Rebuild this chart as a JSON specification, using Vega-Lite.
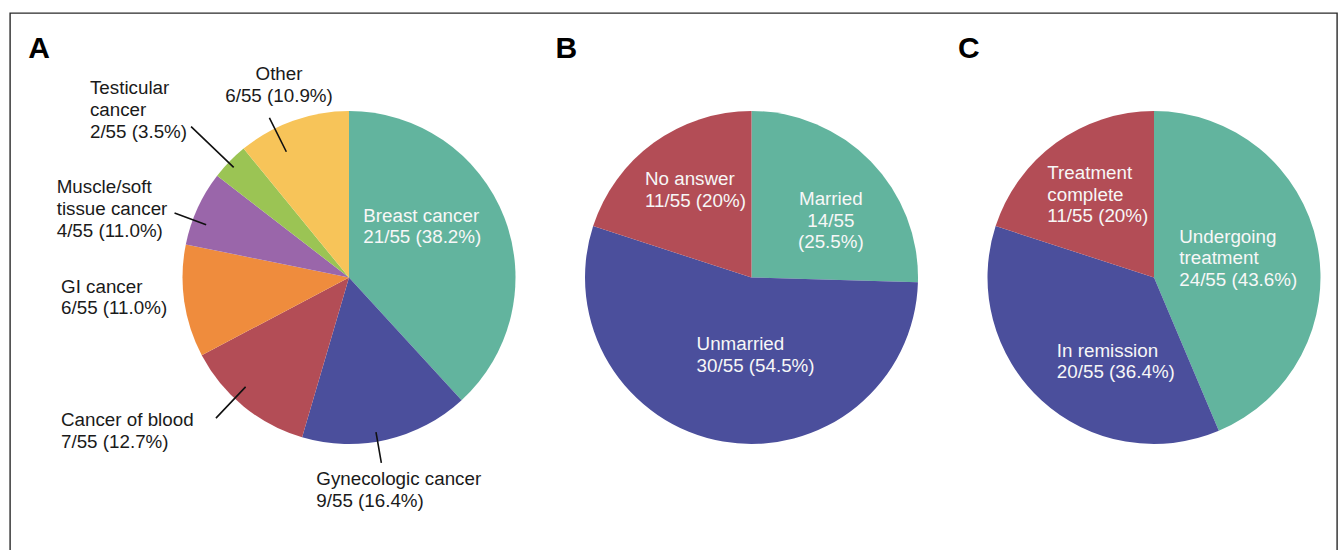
{
  "$schema": "https://vega.github.io/schema/vega-lite/v6.json",
  "width": 1327,
  "height": 542,
  "autosize": {"type": "none"},
  "padding": {"left": 10, "top": 13, "right": 2, "bottom": -5},
  "background": "white",
  "data": {
    "values": [
      {"panel": "A", "category": "Breast cancer", "order": 1, "count": 21, "label": "Breast cancer\n21/55 (38.2%)"},
      {"panel": "A", "category": "Gynecologic cancer", "order": 2, "count": 9, "label": "Gynecologic cancer\n9/55 (16.4%)"},
      {"panel": "A", "category": "Cancer of blood", "order": 3, "count": 7, "label": "Cancer of blood\n7/55 (12.7%)"},
      {"panel": "A", "category": "GI cancer", "order": 4, "count": 6, "label": "GI cancer\n6/55 (11.0%)"},
      {"panel": "A", "category": "Muscle/soft tissue cancer", "order": 5, "count": 4, "label": "Muscle/soft\ntissue cancer\n4/55 (11.0%)"},
      {"panel": "A", "category": "Testicular cancer", "order": 6, "count": 2, "label": "Testicular\ncancer\n2/55 (3.5%)"},
      {"panel": "A", "category": "Other", "order": 7, "count": 6, "label": "Other\n6/55 (10.9%)"},
      {"panel": "B", "category": "Married", "order": 1, "count": 14, "label": "Married\n14/55\n(25.5%)"},
      {"panel": "B", "category": "Unmarried", "order": 2, "count": 30, "label": "Unmarried\n30/55 (54.5%)"},
      {"panel": "B", "category": "No answer", "order": 3, "count": 11, "label": "No answer\n11/55 (20%)"},
      {"panel": "C", "category": "Undergoing treatment", "order": 1, "count": 24, "label": "Undergoing\ntreatment\n24/55 (43.6%)"},
      {"panel": "C", "category": "In remission", "order": 2, "count": 20, "label": "In remission\n20/55 (36.4%)"},
      {"panel": "C", "category": "Treatment complete", "order": 3, "count": 11, "label": "Treatment\ncomplete\n11/55 (20%)"}
    ]
  },
  "transform": [
    {"stack": "count", "groupby": ["panel"], "sort": [{"field": "order", "order": "ascending"}], "as": ["t0", "t1"]},
    {"calculate": "(datum.t0 + datum.t1) / 2", "as": "mid"}
  ],
  "encoding": {
    "x": {"field": "panel", "type": "nominal", "axis": null, "scale": {"type": "point", "domain": ["A", "B", "C"], "range": [339, 1144], "padding": 0}}
  },
  "layer": [
    {
      "mark": {"type": "arc", "outerRadius": 166.5, "y": 264.5},
      "encoding": {
        "theta": {"field": "t0", "type": "quantitative", "scale": {"domain": [0, 55], "range": [0, 6.283185307]}},
        "theta2": {"field": "t1"},
        "color": {
          "field": "category", "type": "nominal", "legend": null,
          "scale": {
            "domain": ["Breast cancer", "Gynecologic cancer", "Cancer of blood", "GI cancer", "Muscle/soft tissue cancer", "Testicular cancer", "Other", "Married", "Unmarried", "No answer", "Undergoing treatment", "In remission", "Treatment complete"],
            "range": ["#62B49E", "#4B4F9C", "#B34D56", "#EF8C3D", "#9A66AA", "#9BC454", "#F7C459", "#62B49E", "#4B4F9C", "#B34D56", "#62B49E", "#4B4F9C", "#B34D56"]
          }
        }
      }
    },
    {
      "transform": [{"filter": {"field": "category", "equal": "Other"}}],
      "mark": {"type": "arc", "filled": false, "stroke": "#111111", "strokeWidth": 1.6, "radius": 178.4, "radius2": 140.5, "thetaOffset": -0.1197, "theta2Offset": -0.1197, "y": 264.5},
      "encoding": {"theta": {"field": "mid", "type": "quantitative", "scale": {"domain": [0, 55], "range": [0, 6.283185307]}}, "theta2": {"field": "mid"}}
    },
    {
      "transform": [{"filter": {"field": "category", "equal": "Testicular cancer"}}],
      "mark": {"type": "arc", "filled": false, "stroke": "#111111", "strokeWidth": 1.6, "radius": 218.4, "radius2": 159.5, "thetaOffset": -0.0084, "theta2Offset": -0.0084, "y": 264.5},
      "encoding": {"theta": {"field": "mid", "type": "quantitative", "scale": {"domain": [0, 55], "range": [0, 6.283185307]}}, "theta2": {"field": "mid"}}
    },
    {
      "transform": [{"filter": {"field": "category", "equal": "Muscle/soft tissue cancer"}}],
      "mark": {"type": "arc", "filled": false, "stroke": "#111111", "strokeWidth": 1.6, "radius": 186, "radius2": 152.3, "thetaOffset": -0.0742, "theta2Offset": -0.0742, "y": 264.5},
      "encoding": {"theta": {"field": "mid", "type": "quantitative", "scale": {"domain": [0, 55], "range": [0, 6.283185307]}}, "theta2": {"field": "mid"}}
    },
    {
      "transform": [{"filter": {"field": "category", "equal": "Cancer of blood"}}],
      "mark": {"type": "arc", "filled": false, "stroke": "#111111", "strokeWidth": 1.6, "radius": 193.6, "radius2": 150.5, "thetaOffset": 0.0721, "theta2Offset": 0.0721, "y": 264.5},
      "encoding": {"theta": {"field": "mid", "type": "quantitative", "scale": {"domain": [0, 55], "range": [0, 6.283185307]}}, "theta2": {"field": "mid"}}
    },
    {
      "transform": [{"filter": {"field": "category", "equal": "Gynecologic cancer"}}],
      "mark": {"type": "arc", "filled": false, "stroke": "#111111", "strokeWidth": 1.6, "radius": 188.1, "radius2": 157, "thetaOffset": 0.0557, "theta2Offset": 0.0557, "y": 264.5},
      "encoding": {"theta": {"field": "mid", "type": "quantitative", "scale": {"domain": [0, 55], "range": [0, 6.283185307]}}, "theta2": {"field": "mid"}}
    },
    {
      "transform": [{"filter": {"field": "category", "equal": "Breast cancer"}}],
      "mark": {"type": "text", "align": "left", "radius": 34, "dx": -17.4, "dy": -43.5, "y": 264.5, "color": "#F7F7F7"},
      "encoding": {"theta": {"field": "mid", "type": "quantitative", "scale": {"domain": [0, 55], "range": [0, 6.283185307]}}, "text": {"field": "label"}}
    },
    {
      "transform": [{"filter": {"field": "category", "equal": "Gynecologic cancer"}}],
      "mark": {"type": "text", "align": "left", "radius": 195, "dx": -76.9, "dy": 17.6, "y": 264.5, "color": "#1A1A1A"},
      "encoding": {"theta": {"field": "mid", "type": "quantitative", "scale": {"domain": [0, 55], "range": [0, 6.283185307]}}, "text": {"field": "label"}}
    },
    {
      "transform": [{"filter": {"field": "category", "equal": "Cancer of blood"}}],
      "mark": {"type": "text", "align": "left", "radius": 297, "dx": -100, "dy": -81.4, "y": 264.5, "color": "#1A1A1A"},
      "encoding": {"theta": {"field": "mid", "type": "quantitative", "scale": {"domain": [0, 55], "range": [0, 6.283185307]}}, "text": {"field": "label"}}
    },
    {
      "transform": [{"filter": {"field": "category", "equal": "GI cancer"}}],
      "mark": {"type": "text", "align": "left", "radius": 287, "dx": -3.9, "dy": -25.6, "y": 264.5, "color": "#1A1A1A"},
      "encoding": {"theta": {"field": "mid", "type": "quantitative", "scale": {"domain": [0, 55], "range": [0, 6.283185307]}}, "text": {"field": "label"}}
    },
    {
      "transform": [{"filter": {"field": "category", "equal": "Muscle/soft tissue cancer"}}],
      "mark": {"type": "text", "align": "left", "radius": 301, "dx": -18.5, "dy": 40.9, "y": 264.5, "color": "#1A1A1A"},
      "encoding": {"theta": {"field": "mid", "type": "quantitative", "scale": {"domain": [0, 55], "range": [0, 6.283185307]}}, "text": {"field": "label"}}
    },
    {
      "transform": [{"filter": {"field": "category", "equal": "Testicular cancer"}}],
      "mark": {"type": "text", "align": "left", "radius": 313, "dx": -34.6, "dy": 35, "y": 264.5, "color": "#1A1A1A"},
      "encoding": {"theta": {"field": "mid", "type": "quantitative", "scale": {"domain": [0, 55], "range": [0, 6.283185307]}}, "text": {"field": "label"}}
    },
    {
      "transform": [{"filter": {"field": "category", "equal": "Other"}}],
      "mark": {"type": "text", "align": "center", "radius": 210, "dx": 0.6, "dy": 0.3, "y": 264.5, "color": "#1A1A1A"},
      "encoding": {"theta": {"field": "mid", "type": "quantitative", "scale": {"domain": [0, 55], "range": [0, 6.283185307]}}, "text": {"field": "label"}}
    },
    {
      "transform": [{"filter": {"field": "category", "equal": "Married"}}],
      "mark": {"type": "text", "align": "center", "radius": 107, "dx": 2.6, "dy": 2.1, "y": 264.5, "color": "#F7F7F7"},
      "encoding": {"theta": {"field": "mid", "type": "quantitative", "scale": {"domain": [0, 55], "range": [0, 6.283185307]}}, "text": {"field": "label"}}
    },
    {
      "transform": [{"filter": {"field": "category", "equal": "No answer"}}],
      "mark": {"type": "text", "align": "left", "radius": 137, "dx": -26, "dy": 18.3, "y": 264.5, "color": "#F7F7F7"},
      "encoding": {"theta": {"field": "mid", "type": "quantitative", "scale": {"domain": [0, 55], "range": [0, 6.283185307]}}, "text": {"field": "label"}}
    },
    {
      "transform": [{"filter": {"field": "category", "equal": "Unmarried"}}],
      "mark": {"type": "text", "align": "left", "radius": 81, "dx": -41.1, "dy": -7.3, "y": 264.5, "color": "#F7F7F7"},
      "encoding": {"theta": {"field": "mid", "type": "quantitative", "scale": {"domain": [0, 55], "range": [0, 6.283185307]}}, "text": {"field": "label"}}
    },
    {
      "transform": [{"filter": {"field": "category", "equal": "Undergoing treatment"}}],
      "mark": {"type": "text", "align": "left", "radius": 32, "dx": -6.1, "dy": -28.6, "y": 264.5, "color": "#F7F7F7"},
      "encoding": {"theta": {"field": "mid", "type": "quantitative", "scale": {"domain": [0, 55], "range": [0, 6.283185307]}}, "text": {"field": "label"}}
    },
    {
      "transform": [{"filter": {"field": "category", "equal": "Treatment complete"}}],
      "mark": {"type": "text", "align": "left", "radius": 142, "dx": -23.2, "dy": 16.4, "y": 264.5, "color": "#F7F7F7"},
      "encoding": {"theta": {"field": "mid", "type": "quantitative", "scale": {"domain": [0, 55], "range": [0, 6.283185307]}}, "text": {"field": "label"}}
    },
    {
      "transform": [{"filter": {"field": "category", "equal": "In remission"}}],
      "mark": {"type": "text", "align": "left", "radius": 124, "dx": -13.3, "dy": -12.3, "y": 264.5, "color": "#F7F7F7"},
      "encoding": {"theta": {"field": "mid", "type": "quantitative", "scale": {"domain": [0, 55], "range": [0, 6.283185307]}}, "text": {"field": "label"}}
    },
    {
      "transform": [{"filter": {"field": "order", "equal": 1}}, {"filter": {"field": "panel", "equal": "A"}}],
      "mark": {"type": "text", "align": "left", "dx": -320.7, "dy": -219.5, "y": 264.5, "fontSize": 30, "fontWeight": "bold", "color": "#000000"},
      "encoding": {"text": {"field": "panel"}}
    },
    {
      "transform": [{"filter": {"field": "order", "equal": 1}}, {"filter": {"field": "panel", "oneOf": ["B", "C"]}}],
      "mark": {"type": "text", "align": "left", "dx": -196, "dy": -219.5, "y": 264.5, "fontSize": 30, "fontWeight": "bold", "color": "#000000"},
      "encoding": {"text": {"field": "panel"}}
    }
  ],
  "config": {
    "view": {"stroke": "#2a2a2a", "strokeWidth": 1.4},
    "text": {"font": "Liberation Sans", "fontSize": 18.8, "lineHeight": 21.7, "lineBreak": "\n", "baseline": "alphabetic"}
  }
}
